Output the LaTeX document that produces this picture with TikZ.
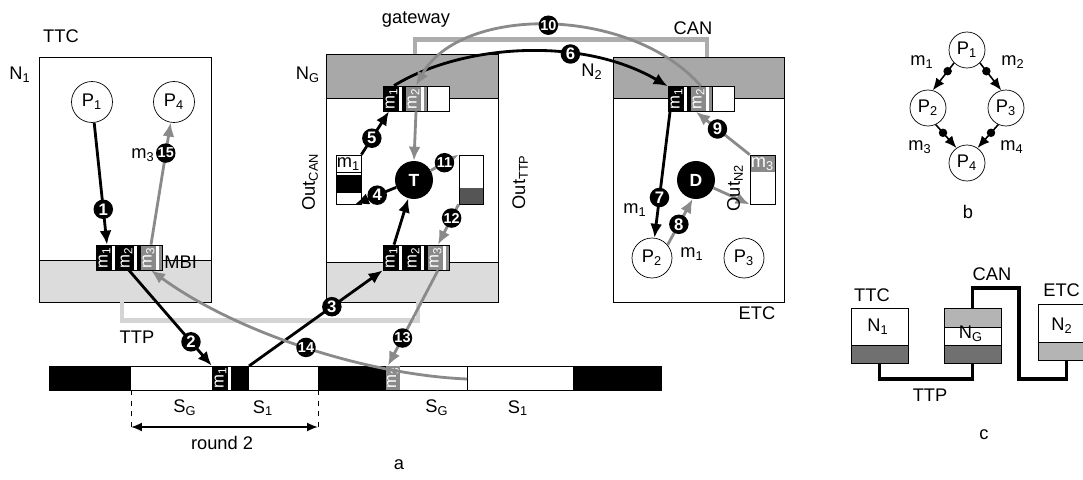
\documentclass[tikz,border=0pt]{standalone}
\usepackage{fontspec}
\setmainfont{Liberation Sans}
\usetikzlibrary{arrows.meta}

\definecolor{lightband}{HTML}{DCDCDC}
\definecolor{canband}{HTML}{A8A8A8}
\definecolor{midgray}{HTML}{8A8A8A}
\definecolor{ttpline}{HTML}{D4D4D4}
\definecolor{canline}{HTML}{ADADAD}
\definecolor{darkfill}{HTML}{555555}
\definecolor{cdark}{HTML}{707070}
\definecolor{clight}{HTML}{B4B4B4}

\tikzstyle{unit} = [rectangle, draw, thin, minimum width=3.44cm, minimum height=4.9cm, inner sep=0pt]
\tikzstyle{cunit} = [rectangle, draw, thin, minimum width=1.14cm, minimum height=1.1cm, inner sep=0pt]
\tikzstyle{proc} = [circle, draw, thin, fill=white, minimum size=0.82cm, inner sep=0pt]
\tikzstyle{task} = [circle, fill=black, text=white, minimum size=0.76cm, inner sep=0pt, font=\bfseries]
\tikzstyle{num} = [circle, fill=black, text=white, minimum size=0.39cm, inner sep=0pt, font=\bfseries\fontsize{9.5}{10}\selectfont]
\tikzstyle{numw} = [num, font=\bfseries\fontsize{8.2}{9}\selectfont]
\tikzstyle{dot} = [circle, fill=black, minimum size=0.17cm, inner sep=0pt]
\tikzstyle{slot} = [rectangle, draw, thin, minimum width=0.44cm, minimum height=0.5cm, inner sep=0pt,
    path picture={\fill[white] ([xshift=-0.12cm]path picture bounding box.north east) rectangle ([xshift=-0.06cm]path picture bounding box.south east);}]
\tikzstyle{mtxt} = [rotate=90, text=white, inner sep=0pt, font=\fontsize{9.5}{10}\selectfont]
\tikzstyle{buffer} = [rectangle, draw, thin, fill=white, minimum width=0.5cm, minimum height=0.98cm, inner sep=0pt]
\tikzstyle{msg} = [line width=1.6pt, -{Latex[length=2.8mm,width=2.4mm]}]
\tikzstyle{gmsg} = [msg, color=midgray]
\tikzstyle{dep} = [line width=0.9pt, -{Latex[length=2.4mm,width=2mm]}]
\tikzstyle{ttp} = [line width=2.8pt, color=ttpline]
\tikzstyle{can} = [line width=2.8pt, color=canline]
\tikzstyle{cline} = [line width=2.2pt]

\begin{document}
\begin{tikzpicture}[x=0.02cm, y=-0.02cm, font=\fontsize{10.4}{12}\selectfont]
\useasboundingbox (0,0) rectangle (1083,480);

%begin N1
\fill[lightband] (39,260) rectangle (211,302);
\draw[thin] (39,260) -- (211,260);
\node[unit] (n1box) at (125,179.5) {};
\node (n1lbl) at (20,75) {N\textsubscript{1}};
\node (ttc) at (61,36) {TTC};
\node[proc] (P1) at (92,102) {P\textsubscript{1}};
\node[proc] (P4) at (174,102) {P\textsubscript{4}};
\node (m3lbl) at (143,155) {m\textsubscript{3}};
%end N1

%begin gateway
\fill[canband] (326,54) rectangle (498,98);
\fill[lightband] (326,262) rectangle (498,302);
\draw[thin] (326,98) -- (498,98);
\draw[thin] (326,262) -- (498,262);
\node[unit, minimum height=4.96cm] (ngbox) at (412,178) {};
\node (nglbl) at (308,75) {N\textsubscript{G}};
\node (gw) at (416,19) {gateway};
\node[task] (T) at (414,180) {T};
\node[buffer, path picture={\fill[black] ([yshift=-0.4cm]path picture bounding box.north west) rectangle ([yshift=0.22cm]path picture bounding box.south east);
    \draw[black] ([yshift=-0.34cm]path picture bounding box.north west) -- ([yshift=-0.34cm]path picture bounding box.north east);}] (outcan) at (348.5,179.5) {};
\node (outcanm) at (348.5,164) {m\textsubscript{1}};
\node[buffer, minimum width=0.48cm, path picture={\fill[darkfill] (path picture bounding box.south west) rectangle ([yshift=0.32cm]path picture bounding box.south east);}] (outttp) at (471,179.5) {};
\node[rotate=90] (outcanlbl) at (310,182) {Out\textsubscript{CAN}};
\node[rotate=90] (outttplbl) at (520,182) {Out\textsubscript{TTP}};
%end gateway

%begin N2
\fill[canband] (613,57) rectangle (784,98);
\draw[thin] (613,98) -- (784,98);
\node[unit, minimum width=3.42cm] (n2box) at (698.5,179.5) {};
\node (n2lbl) at (592,72) {N\textsubscript{2}};
\node (etc) at (757,313) {ETC};
\node (can) at (693,28) {CAN};
\node[task] (D) at (696,180) {D};
\node[proc, minimum size=0.8cm] (P2) at (652,258) {P\textsubscript{2}};
\node[proc, minimum size=0.8cm] (P3) at (744,258) {P\textsubscript{3}};
\node[buffer, path picture={\fill[midgray] (path picture bounding box.north west) rectangle ([yshift=-0.34cm]path picture bounding box.north east);}] (outn2) at (762.5,179.5) {};
\node[text=white] (outn2m) at (762.5,164) {m\textsubscript{3}};
\node (m1lblA) at (635,210) {m\textsubscript{1}};
\node (m1lblB) at (692,254) {m\textsubscript{1}};
%end N2

%begin busses
\draw[ttp] ([xshift=-0.06cm]n1box.south) -- ++(0,18) -| ([xshift=0.12cm]ngbox.south);
\draw[can] ([xshift=0.06cm]ngbox.north) -- ++(0,-14) -| ([xshift=0.17cm]n2box.north);
\node (ttplbl) at (137,337) {TTP};
%end busses

%begin MBI slots
\node[slot, fill=black] (n1m1) at (107,257.5) {};
\node[slot, fill=black] (n1m2) at (129,257.5) {};
\node[slot, fill=midgray] (n1m3) at (151,257.5) {};
\node[mtxt] at ([xshift=-0.05cm]n1m1) {m\textsubscript{1}};
\node[mtxt] at ([xshift=-0.05cm]n1m2) {m\textsubscript{2}};
\node[mtxt] at ([xshift=-0.05cm]n1m3) {m\textsubscript{3}};
\node[anchor=west, inner sep=1pt, yshift=-0.09cm] (mbi) at (n1m3.east) {MBI};
\node[slot, fill=black] (ngt1) at (394,98.5) {};
\node[slot, fill=midgray] (ngt2) at (416,98.5) {};
\node[slot, fill=white] (ngt3) at (438,98.5) {};
\node[mtxt] at ([xshift=-0.05cm]ngt1) {m\textsubscript{1}};
\node[mtxt] at ([xshift=-0.05cm]ngt2) {m\textsubscript{2}};
\node[slot, fill=black] (ngb1) at (394,257.5) {};
\node[slot, fill=black] (ngb2) at (416,257.5) {};
\node[slot, fill=midgray] (ngb3) at (438,257.5) {};
\node[mtxt] at ([xshift=-0.05cm]ngb1) {m\textsubscript{1}};
\node[mtxt] at ([xshift=-0.05cm]ngb2) {m\textsubscript{2}};
\node[mtxt] at ([xshift=-0.05cm]ngb3) {m\textsubscript{3}};
\node[slot, fill=black] (n2m1) at (679,99) {};
\node[slot, fill=midgray] (n2m2) at (701,99) {};
\node[slot, fill=white] (n2m3) at (723,99) {};
\node[mtxt] at ([xshift=-0.05cm]n2m1) {m\textsubscript{1}};
\node[mtxt] at ([xshift=-0.05cm]n2m2) {m\textsubscript{2}};
%end MBI slots

%begin TTP rounds
\draw[thin, fill=white] (49,366) rectangle (661,390);
\fill (49,366) rectangle (131,390);
\fill (212,366) rectangle (249,390);
\fill (318,366) rectangle (386,390);
\fill (573,366) rectangle (661,390);
\draw[thin] (467,366) -- (467,390);
\node[slot, fill=black, minimum height=0.48cm] (busm1) at (223,378) {};
\node[mtxt] at ([xshift=-0.05cm]busm1) {m\textsubscript{1}};
\node[rectangle, fill=midgray, minimum width=0.28cm, minimum height=0.48cm, inner sep=0pt] (busm3) at (393,378) {};
\node[mtxt] at (busm3) {m\textsubscript{3}};
\coordinate (busA) at (249,366);
\coordinate (busB) at (467,379);
\coordinate (rndL) at (131,427);
\coordinate (rndR) at (318,427);
\draw[thin, dashed] (131,390) -- (131,432);
\draw[thin, dashed] (318,390) -- (318,432);
\draw[line width=1pt, {Latex[length=2.2mm,width=1.8mm]}-{Latex[length=2.2mm,width=1.8mm]}] (rndL) -- (rndR);
\node (sg1) at (185,408) {S\textsubscript{G}};
\node (s11) at (263,408) {S\textsubscript{1}};
\node (sg2) at (437,408) {S\textsubscript{G}};
\node (s12) at (518,408) {S\textsubscript{1}};
\node (rnd) at (222,443) {round 2};
\node (capa) at (399,465) {a};
%end TTP rounds

%begin messages
\draw[msg] (P1) -- (n1m1.north) node[num, pos=0.71] {1};
\draw[msg] (n1m2.south) -- (busm1.north west) node[num, pos=0.75] {2};
\draw[msg] (busA) -- (ngb1.south west) node[num, pos=0.62] {3};
\draw[msg] (ngb1.north) -- (T);
\draw[msg] (T) -- ([xshift=0.13cm]outcan.south) node[num, pos=0.46] {4};
\draw[msg] (outcan.north east) -- ([xshift=-0.1cm]ngt1.south) node[num, pos=0.38] {5};
\draw[msg] (ngt1.north) .. controls (460,45) and (580,35) .. (n2m1.north west) node[num, pos=0.66] {6};
\draw[msg] ([xshift=-0.18cm]n2m1.south) -- (P2) node[num, pos=0.68] {7};
\draw[gmsg] (P2.40) -- (D.260) node[num, pos=0.45] {8};
\draw[gmsg] (D) -- (outn2.south west);
\draw[gmsg] (outn2.north west) -- ([xshift=-0.1cm]n2m2.south) node[num, pos=0.6] {9};
\draw[gmsg] (n2m2.north) .. controls (630,5) and (460,5) .. (ngt2.north) node[numw, pos=0.5] {10};
\draw[gmsg] (ngt2.south) -- (T.north);
\draw[gmsg] (T) -- (outttp.north west) node[numw, pos=0.49] {11};
\draw[gmsg] (outttp.south west) -- (ngb3.north) node[numw, pos=0.34] {12};
\draw[gmsg] (ngb3.south) -- ([xshift=-0.1cm]busm3.north) node[numw, pos=0.71] {13};
\draw[gmsg] (busB) .. controls (370,375) and (240,335) .. (n1m3.south) node[numw, pos=0.5] {14};
\draw[gmsg] (n1m3.north) -- (P4) node[numw, pos=0.75] {15};
\node[rotate=90] (outn2lbl) at (735,188) {Out\textsubscript{N2}};
%end messages

%begin task graph (b)
\node[proc, minimum size=0.72cm] (bP1) at (967,50) {P\textsubscript{1}};
\node[proc, minimum size=0.72cm] (bP2) at (928,108) {P\textsubscript{2}};
\node[proc, minimum size=0.72cm] (bP3) at (1006,108) {P\textsubscript{3}};
\node[proc, minimum size=0.72cm] (bP4) at (967,163) {P\textsubscript{4}};
\draw[dep] (bP1.225) -- (bP2.75) node[dot, pos=0.3] {};
\draw[dep] (bP1.315) -- (bP3.105) node[dot, pos=0.3] {};
\draw[dep] (bP2.295) -- (bP4.125) node[dot, pos=0.35] {};
\draw[dep] (bP3.245) -- (bP4.55) node[dot, pos=0.35] {};
\node (bm1) at (922,62) {m\textsubscript{1}};
\node (bm2) at (1013,62) {m\textsubscript{2}};
\node (bm3) at (920,147) {m\textsubscript{3}};
\node (bm4) at (1012,147) {m\textsubscript{4}};
\node (capb) at (968,212) {b};
%end task graph (b)

%begin architecture (c)
\fill[cdark] (851,345) rectangle (908,363);
\draw[thin] (851,345) -- (908,345);
\node[cunit] (cN1) at (879.5,335.5) {};
\fill[clight] (944,308) rectangle (1001,327);
\fill[cdark] (944,345) rectangle (1001,363);
\draw[thin] (944,327) -- (1001,327);
\draw[thin] (944,345) -- (1001,345);
\node[cunit] (cNG) at (972.5,335.5) {};
\fill[clight] (1038,342) rectangle (1095,360);
\draw[thin] (1038,342) -- (1095,342);
\node[cunit, minimum height=1.12cm] (cN2) at (1066.5,332) {};
\node (cn1lbl) at (878,327) {N\textsubscript{1}};
\node (cnglbl) at (971,334) {N\textsubscript{G}};
\node (cn2lbl) at (1062,326) {N\textsubscript{2}};
\coordinate (cbend) at (1019,379);
\draw[cline] (cN1.south) -- ++(0,16) -| (cNG.south);
\draw[cline] (cNG.north) -- ++(0,-20) -| (cbend) -| (cN2.south);
\node (cttc) at (872,295) {TTC};
\node[anchor=east, inner sep=1pt] (cetc) at (1082,290) {ETC};
\node (ccan) at (992,274) {CAN};
\node (cttp) at (930,395) {TTP};
\node (capc) at (984,435) {c};
%end architecture (c)
\end{tikzpicture}
\end{document}
